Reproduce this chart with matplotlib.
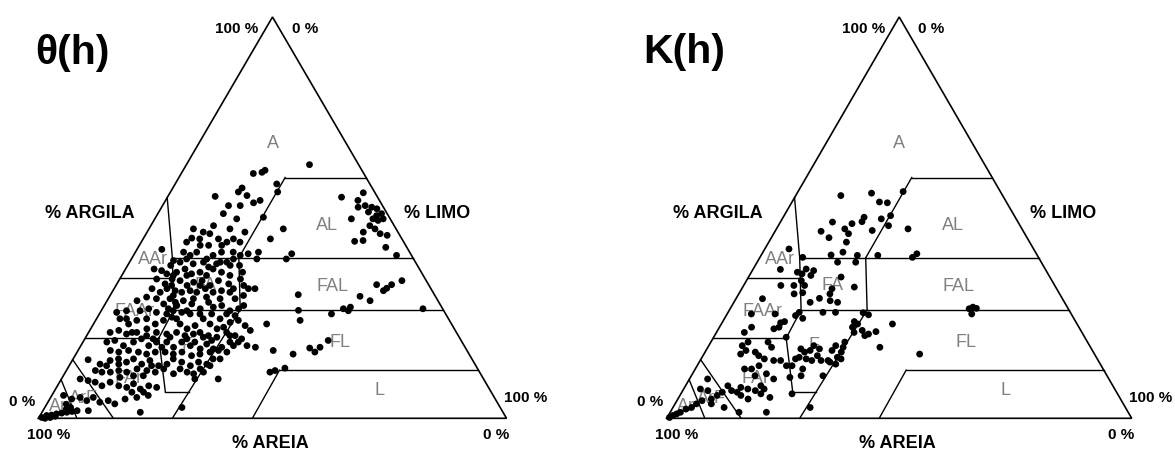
import numpy as np
import matplotlib
matplotlib.use("Agg")
import matplotlib.pyplot as plt

plt.rcParams['font.family'] = ['Liberation Sans', 'DejaVu Sans']

# -- Data: (clay %, silt %)
clay_theta = [63.2, 61.8, 61.3, 61.0, 58.4, 56.4, 57.4, 56.4, 55.5, 55.3, 54.3, 53.7, 53.0, 51.0, 49.7,
              50.1, 48.0, 46.4, 47.2, 44.9, 44.7, 46.4, 43.1, 44.7, 43.9, 41.4, 40.6, 41.0, 41.4, 44.7,
              41.4, 40.6, 40.6, 38.9, 38.1, 47.2, 41.0, 39.7, 39.7, 43.9, 43.1, 46.0, 41.4, 47.2, 53.0,
              # AL
              55.1, 54.3, 56.2, 52.6, 53.0, 51.4, 52.6, 52.2, 51.0, 49.7, 48.0, 49.3, 49.7, 47.2, 46.0,
              45.6, 50.5, 49.7, 46.4, 44.1, 44.3, 42.6, 40.6,
              # FAL
              33.3, 31.8, 32.4, 33.3, 34.3, 30.4, 29.3, 27.7, 27.3, 30.8, 26.9, 24.4, 26.0, 26.8, 27.3,
              32.3, 32.3, 33.1,
              # FL
              23.5, 16.9, 16.0, 17.5, 16.5, 17.7, 19.4, 11.9, 12.5, 11.5,
              # dense band
              42.1, 39.3, 38.9, 39.7, 38.5, 38.9, 37.7, 38.5, 38.9, 39.7, 37.2, 36.8, 36.0, 36.4, 37.2,
              36.0, 36.4, 37.2, 36.4, 35.6, 38.1, 36.4,
              34.7, 33.5, 34.7, 34.3, 33.1, 33.9, 34.3, 33.1, 34.3, 33.5, 32.3, 34.7, 32.3, 31.4, 32.3,
              31.8, 31.4, 31.8, 31.4, 32.3, 31.4, 31.8, 31.4,
              29.3, 30.2, 29.8, 28.5, 29.8, 28.1, 29.3, 28.5, 27.3, 28.9, 27.7, 28.1, 26.8, 27.3, 28.1,
              26.4, 26.8, 26.8, 27.3, 26.4, 26.0, 26.8, 26.4, 26.0, 26.0, 26.0, 26.0, 25.6,
              24.8, 23.5, 24.4, 24.8, 23.5, 24.4, 25.2, 23.5, 22.3, 23.1, 24.8, 23.5, 22.3, 22.7, 23.9,
              24.4, 23.1, 21.9, 21.4, 21.9, 21.0, 21.4, 22.3, 21.4, 21.0, 21.4, 20.6, 21.0, 21.4, 20.6,
              20.2, 21.4, 20.6, 19.8,
              19.0, 19.4, 18.1, 19.0, 19.8, 18.1, 19.0, 19.0, 17.7, 19.0, 18.1, 17.3, 18.5, 17.3, 17.7,
              19.0, 19.0, 18.1, 17.7, 16.9, 16.5, 16.9, 16.5, 16.0, 16.5, 16.5, 16.0, 16.5, 15.6, 16.0,
              16.5, 16.9,
              14.6, 13.5, 14.4, 13.5, 14.0, 14.8, 13.5, 14.4, 13.1, 13.5, 14.8, 14.0, 13.1, 14.0, 13.5,
              14.8, 9.8, 11.9, 11.5, 11.5, 11.9, 11.5, 12.3, 11.9, 11.5, 12.3,
              9.8, 9.4, 9.0, 8.1, 9.0, 8.1, 7.7, 8.6, 7.3, 8.1, 7.7, 6.5, 6.5,
              5.7, 4.8, 5.2, 4.4, 5.2, 4.0, 4.4, 3.6, 4.8, 1.9, 1.5, 2.7,
              0.2, 0.7, 0.8, 1.1, 1.3, 1.5, 1.7, 0.0, 0.2, 0.5, 1.9, 2.7, 2.3, 3.5,
              # extra dense points
              38.1, 35.6, 33.1, 30.6, 28.9, 27.3, 24.8, 24.8, 20.6, 18.1, 16.5, 14.8, 13.1, 11.5, 12.3,
              11.1, 11.5, 12.3, 11.1, 9.8, 19.8, 17.7, 20.2, 19.8, 19.0, 20.2, 19.4, 13.1, 10.6, 10.6,
              10.2, 5.2, 5.7, 24.8, 21.4, 20.6, 14.8, 13.1, 29.8, 30.2, 26.8, 33.1, 29.8, 29.8, 30.6,
              35.6, 35.6, 41.4, 39.7, 43.1, 44.7, 43.9]
silt_theta = [26.3, 17.5, 17.1, 15.4, 21.7, 22.9, 14.8, 14.5, 16.8, 10.1, 20.2, 19.1, 14.1, 14.0, 17.5,
              23.0, 13.4, 20.9, 9.5, 10.3, 12.1, 12.0, 14.8, 16.1, 18.3, 20.9, 22.8, 24.3, 26.3, 27.2,
              13.1, 12.1, 17.0, 19.4, 21.9, 28.7, 33.6, 33.1, 26.8, 21.1, 13.0, 13.6, 18.4, 17.3, 16.6,
              # AL
              37.2, 41.1, 41.3, 42.0, 43.3, 44.8, 44.9, 46.2, 47.8, 46.6, 46.8, 47.9, 48.8, 48.3, 50.0,
              51.7, 47.0, 42.0, 46.2, 45.5, 47.2, 52.9, 56.2,
              # FAL
              55.6, 57.8, 58.2, 58.8, 60.5, 53.5, 56.2, 52.8, 51.5, 40.1, 42.1, 43.7, 49.6, 52.8, 68.5,
              28.7, 30.1, 27.3,
              # FL
              37.0, 41.7, 46.4, 49.2, 50.8, 51.3, 52.2, 44.6, 46.4, 43.7,
              # dense band
              5.3, 9.2, 10.8, 11.8, 13.8, 15.8, 17.5, 18.8, 20.8, 21.8, 6.1, 7.9, 9.4, 11.3, 12.7,
              14.7, 16.3, 18.7, 20.9, 23.1, 23.9, 25.4,
              7.9, 10.3, 11.2, 13.1, 15.2, 16.2, 17.8, 20.1, 21.3, 23.9, 25.5, 25.8, 8.1, 10.3, 11.3,
              13.3, 14.9, 16.5, 18.1, 19.5, 21.6, 23.2, 25.2,
              6.4, 8.0, 10.3, 12.5, 13.2, 15.5, 16.3, 18.5, 20.9, 21.9, 23.5, 25.1, 27.5, 29.1, 29.8,
              3.5, 5.4, 8.3, 9.9, 12.0, 14.4, 15.4, 17.4, 19.4, 21.5, 24.0, 27.2, 29.2,
              5.0, 7.5, 8.8, 10.7, 13.2, 14.5, 15.9, 18.5, 20.6, 21.9, 22.8, 24.9, 27.0, 28.2, 29.0,
              30.5, 32.6, 34.3, 4.6, 6.2, 8.3, 10.3, 12.0, 14.5, 16.9, 18.8, 21.0, 22.6, 23.8, 26.0,
              28.0, 29.5, 31.7, 33.5,
              5.1, 6.6, 9.1, 10.8, 12.1, 14.5, 15.7, 17.9, 20.0, 21.1, 23.4, 25.9, 26.7, 28.7, 30.3,
              31.4, 33.2, 35.5, 37.5, 6.9, 8.9, 10.8, 13.1, 15.1, 16.7, 18.8, 20.8, 22.4, 24.9, 26.5,
              28.4, 30.0,
              3.3, 6.4, 8.1, 10.4, 11.8, 12.9, 15.3, 16.6, 19.1, 20.7, 21.4, 23.6, 25.9, 27.2, 29.2,
              29.9, 33.5, 6.2, 7.8, 9.6, 11.2, 13.1, 14.9, 17.2, 19.2, 20.6,
              4.0, 5.9, 7.6, 9.5, 10.8, 13.1, 15.0, 16.0, 18.1, 19.5, 21.4, 16.7, 19.2,
              2.5, 4.7, 6.3, 8.1, 9.1, 11.1, 12.7, 14.5, 16.1, 9.7, 21.0, 29.3,
              0.6, 1.4, 2.4, 3.3, 4.3, 5.3, 6.3, 1.4, 2.4, 3.3, 7.3, 5.5, 4.8, 4.2,
              # extra dense points
              9.2, 11.0, 11.9, 13.5, 14.8, 14.1, 17.1, 26.4, 30.6, 32.6, 32.0, 31.4, 30.1, 29.5, 28.4,
              27.6, 26.0, 24.1, 23.3, 28.5, 14.6, 17.5, 18.0, 21.8, 23.9, 25.1, 27.3, 17.6, 17.1, 15.0,
              12.3, 18.4, 20.6, 6.4, 9.3, 12.8, 9.7, 8.0, 18.2, 20.8, 18.3, 18.0, 23.9, 27.1, 28.5,
              13.9, 18.1, 10.3, 16.1, 17.6, 19.3, 9.7]

clay_k = [55.5, 56.1, 53.9, 53.7, 56.5, 48.9, 48.5, 50.1, 49.0, 49.7, 50.5, 48.0, 46.8, 46.0, 46.6,
          45.0, 43.9, 41.4, 40.7, 47.2, 42.2, 40.1, 40.6, 40.6, 40.1, 41.0, 37.1, 47.2,
          36.4, 36.0, 37.2, 35.6, 36.8, 34.3, 33.1, 33.1, 33.1, 32.3, 35.2, 32.7, 38.9, 38.9, 31.3,
          31.0, 28.9, 29.9, 31.0, 29.3, 28.9, 26.4, 25.6, 24.9, 26.4, 26.4, 26.3, 25.8, 24.1, 22.7,
          23.5, 21.9, 20.6, 21.0, 21.6, 23.5, 21.4, 19.0, 17.7, 18.1, 16.9, 16.5, 15.2, 14.0, 13.5,
          10.6, 14.4, 14.8, 17.7, 17.3, 16.5, 16.9, 18.1, 17.3, 15.2, 14.8, 14.4, 15.6, 14.4, 14.8,
          13.1, 10.6, 12.3, 16.0, 27.3, 27.7, 26.0, 27.4, 29.8, 26.0, 26.0, 23.8, 24.1, 22.7, 22.3,
          20.2, 21.4, 22.7, 18.1, 19.0, 19.0, 17.7, 16.0, 16.9, 16.5, 15.6, 14.8, 14.4, 14.4, 13.1,
          12.3, 12.3, 10.6, 11.1, 9.8, 13.1, 10.2, 8.1, 7.3, 5.2, 6.1, 6.9, 7.3, 7.7, 6.5,
          6.9, 8.1, 6.5, 5.7, 4.8, 6.9, 4.4, 7.3, 9.8, 3.6, 3.6, 2.7, 2.3, 1.5, 1.1,
          0.7, 0.2, 2.7, 1.5, 1.5, 2.7, 6.1, 4.8, 5.7]
silt_k = [9.7, 16.0, 18.8, 20.6, 22.6, 11.2, 15.6, 17.4, 17.5, 21.3, 22.9, 23.7, 20.8, 16.1, 9.9,
          12.4, 16.7, 17.2, 15.0, 28.3, 5.2, 9.2, 20.7, 25.1, 32.8, 33.3, 5.9, 14.7,
          9.9, 11.1, 11.4, 13.2, 13.2, 11.8, 13.1, 10.8, 8.0, 19.4, 19.9, 24.0, 21.2, 17.3, 13.6,
          11.9, 16.4, 17.9, 19.6, 20.5, 22.3, 15.3, 14.9, 16.8, 20.4, 23.1, 29.1, 30.5, 28.3, 28.6,
          29.3, 31.1, 32.3, 32.9, 34.2, 36.8, 29.6, 28.8, 29.1, 27.3, 27.1, 29.3, 29.1, 28.1, 29.6,
          28.3, 27.5, 30.1, 37.0, 20.2, 21.4, 22.4, 22.6, 24.2, 20.9, 22.6, 24.0, 24.6, 26.0, 20.3,
          20.4, 23.6, 23.1, 46.4, 51.4, 52.0, 52.6, 52.9, 5.7, 5.2, 10.3, 12.6, 13.3, 12.8, 11.9,
          15.6, 6.0, 6.9, 7.2, 8.0, 12.3, 13.7, 7.9, 8.6, 10.8, 12.0, 13.6, 15.8, 17.3, 13.3,
          12.1, 10.6, 13.7, 15.9, 18.1, 19.2, 21.4, 16.2, 17.3, 19.6, 17.2, 15.6, 13.8, 12.1, 11.9,
          10.5, 9.1, 8.7, 8.0, 7.2, 5.4, 5.4, 3.6, 3.9, 7.8, 4.6, 4.0, 3.0, 2.2, 1.6,
          1.0, 0.5, 11.0, 14.8, 20.7, 29.5, 23.9, 15.1, 13.1]

# -- Class limits of the textural triangle, (clay %, silt %) vertices
class_lines = [
    [(55, 0), (40, 8.6), (27, 15.4), (20, 15.7)],
    [(35, 0), (35, 11.2)],
    [(40, 8.6), (40, 60)],
    [(40, 22.8), (60, 22.7)],
    [(60, 22.7), (60, 40)],
    [(40, 22.8), (27, 29.6)],
    [(27, 15.4), (27, 73)],
    [(27, 29.6), (0, 28.6)],
    [(20, 0), (20, 15.7)],
    [(20, 15.7), (6.6, 23.8)],
    [(6.6, 23.8), (6.6, 28.85)],
    [(12, 45.5), (12, 88)],
    [(12, 45.5), (0, 45.7)],
    [(14.6, 0), (0, 16)],
    [(9.65, 0), (0, 8.2)],
]
outline = [(0, 0), (100, 0), (0, 100), (0, 0)]

class_names = ['A', 'AL', 'AAr', 'FA', 'FAL', 'FAAr', 'F', 'FL', 'L', 'FAr', 'ArF', 'Ar']
class_clay = [68.8, 48.2, 39.7, 33.3, 33.2, 26.8, 18.5, 19.2, 7.3, 10.2, 5.2, 3.1]
class_silt = [15.6, 37.5, 4.6, 19.1, 46.2, 7.2, 22.4, 54.8, 69.3, 14.1, 7.0, 2.7]


def tern(clay, silt):
    clay = np.asarray(clay, dtype=float)
    silt = np.asarray(silt, dtype=float)
    return (silt + clay / 2) / 100, clay / 100


def draw_triangle(ax, clay, silt):
    ax.set_xlim(0, 1)
    ax.set_ylim(0, 1)
    ax.axis('off')
    c, s = zip(*outline)
    x, y = tern(c, s)
    ax.plot(x, y, color='black', lw=1.2, solid_joinstyle='miter', clip_on=False)
    for line in class_lines:
        c, s = zip(*line)
        x, y = tern(c, s)
        ax.plot(x, y, color='black', lw=1.0, clip_on=False)
    for name, c, s in zip(class_names, class_clay, class_silt):
        x, y = tern(c, s)
        ax.text(x, y, name, color='#808080', fontsize=13, ha='center', va='center')
    x, y = tern(clay, silt)
    ax.scatter(x, y, s=24, color='black', edgecolors='none', zorder=5, clip_on=False)

    # -- axis ticks and names
    tk = dict(fontsize=11, fontweight='bold', ha='center', va='center', transform=ax.transAxes)
    ax.text(0.4235, 0.972, '100 %', **tk)
    ax.text(0.5694, 0.972, '0 %', **tk)
    ax.text(-0.036, 0.044, '0 %', **tk)
    ax.text(0.021, -0.039, '100 %', **tk)
    ax.text(0.9776, -0.039, '0 %', **tk)
    ax.text(1.0406, 0.053, '100 %', **tk)
    nm = dict(fontsize=13, fontweight='bold', ha='center', va='center', transform=ax.transAxes)
    ax.text(0.110, 0.513, '% ARGILA', **nm)
    ax.text(0.852, 0.513, '% LIMO', **nm)
    ax.text(0.496, -0.060, '% AREIA', **nm)


fig = plt.figure(figsize=(11.75, 4.52), dpi=100)
ax1 = fig.add_axes([0.03277, 0.07235, 0.39830, 0.88783])
ax2 = fig.add_axes([0.56740, 0.07235, 0.39574, 0.88783])

draw_triangle(ax1, clay_theta, silt_theta)
draw_triangle(ax2, clay_k, silt_k)

fig.text(72.5 / 1175, 1 - 52.5 / 452, 'θ(h)', fontsize=29.5, fontweight='bold', ha='center', va='center')
fig.text(684 / 1175, 1 - 52 / 452, 'K(h)', fontsize=29.5, fontweight='bold', ha='center', va='center')

fig.savefig('out.png', dpi=100)
